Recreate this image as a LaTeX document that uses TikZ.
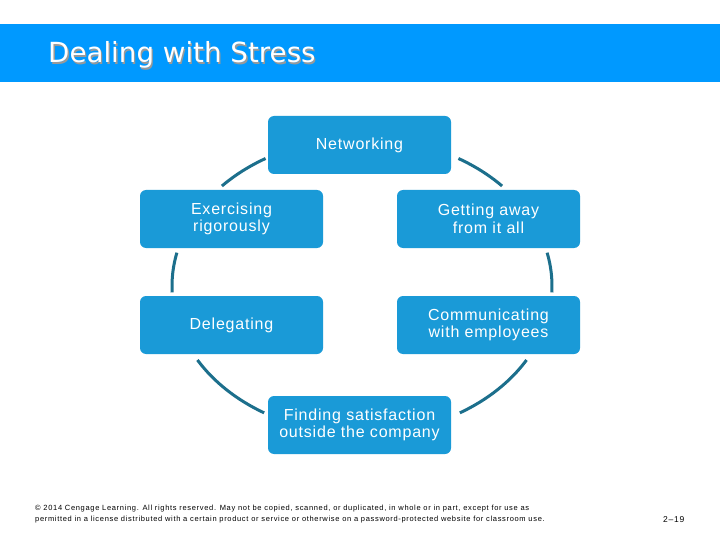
\documentclass[tikz,border=0pt]{standalone}
\usepackage{fontspec}
\setmainfont{Liberation Sans}
\newfontfamily\titlefont{DejaVu Sans}
\newfontfamily\boxfont[LetterSpace=5]{Liberation Sans}
\newfontfamily\footfont[LetterSpace=9]{Liberation Sans}
\definecolor{headblue}{HTML}{0099FF}
\definecolor{boxblue}{HTML}{1A9AD7}
\definecolor{ringcol}{HTML}{1C6F8C}
\tikzset{
  stepbox/.style={fill=boxblue, rounded corners=6pt, minimum width=183pt, minimum height=58pt,
    text=white, align=center, inner sep=0pt, font=\boxfont\fontsize{16}{17.5}\selectfont},
  ring/.style={draw=ringcol, line width=3pt}
}
\begin{document}
\begin{tikzpicture}[x=1pt,y=-1pt]
\useasboundingbox (0,0) rectangle (720,540);
\fill[white] (0,0) rectangle (720,540);
\fill[headblue] (0,24) rectangle (720,82);
\node[anchor=base west, text=black!40, font=\titlefont\fontsize{27.7}{30}\selectfont, inner sep=0pt] at (49.3,64.3) {Dealing with Stress};
\node (title) [anchor=base west, text=white, font=\titlefont\fontsize{27.7}{30}\selectfont, inner sep=0pt] at (48,63) {Dealing with Stress};

\coordinate (c) at (362,286);
\draw[ring] (c) ++(222.5:190 and 148) arc[start angle=222.5, end angle=239.5, x radius=190, y radius=148];
\draw[ring] (c) ++(300.5:190 and 148) arc[start angle=300.5, end angle=317.5, x radius=190, y radius=148];
\draw[ring] (c) ++(177.5:190 and 148) arc[start angle=177.5, end angle=193, x radius=190, y radius=148];
\draw[ring] (c) ++(-13:190 and 148) arc[start angle=-13, end angle=2.5, x radius=190, y radius=148];
\draw[ring] (c) ++(121:190 and 148) arc[start angle=121, end angle=150, x radius=190, y radius=148];
\draw[ring] (c) ++(30:190 and 148) arc[start angle=30, end angle=59, x radius=190, y radius=148];

\node (net) [stepbox] at (359.5,145) {Networking};
\node (exe) [stepbox] at (231.5,219) {Exercising\\rigorously};
\node (get) [stepbox] at (488.5,219) {Getting away\\from it all};
\node (del) [stepbox] at (231.5,325) {Delegating};
\node (com) [stepbox] at (488.5,325) {Communicating\\with employees};
\node (fin) [stepbox] at (359.5,425) {Finding satisfaction\\outside the company};

\node (copy) [anchor=north west, align=left, inner sep=0pt, font=\footfont\fontsize{7.5}{11}\selectfont] at (35,505)
  {© 2014 Cengage Learning. All rights reserved. May not be copied, scanned, or duplicated, in whole or in part, except for use as\\
   permitted in a license distributed with a certain product or service or otherwise on a password-protected website for classroom use.};
\node (pg) [anchor=base west, inner sep=0pt, font=\footfont\fontsize{8.5}{10}\selectfont] at (663,522) {2–19};
\end{tikzpicture}
\end{document}
